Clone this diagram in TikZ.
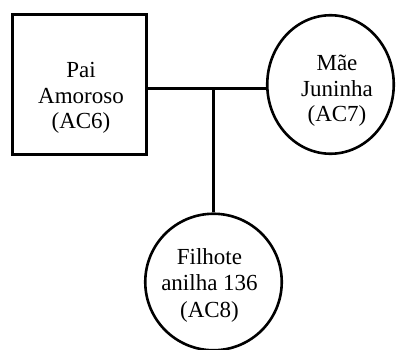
\documentclass[tikz,border=0pt]{standalone}
\usepackage{fontspec}
\setmainfont{Liberation Serif}
\usetikzlibrary{calc,shapes.geometric}
\begin{document}
\begin{tikzpicture}[x=1pt,y=1pt,
  male/.style={draw, line width=3pt, rectangle, inner sep=0pt,
    minimum width=134pt, minimum height=140pt},
  female/.style={draw, line width=2.6pt, ellipse, inner sep=0pt},
  person/.style={align=center, inner sep=0pt,
    font=\fontsize{23pt}{25.5pt}\selectfont},
  link/.style={line width=3pt}]
  \useasboundingbox (0,0) rectangle (396,349);

  % parents and offspring
  \node[male] (pai) at (79.5,264.5) {};
  \node[female, minimum width=126.5pt, minimum height=138.5pt] (mae) at (330.5,264.5) {};
  \node[female, minimum width=136.5pt, minimum height=136.5pt] (filhote) at (213.5,67) {};

  % names
  \node[person] (paiT) at (81,251) {Pai\\Amoroso\\(AC6)};
  \node[person] (maeT) at (337,258) {Mãe\\Juninha\\(AC7)};
  \node[person, font=\fontsize{23pt}{26.5pt}\selectfont] (filhoteT) at (209.5,64) {Filhote\\anilha 136\\(AC8)};

  % mating line and descent line
  \coordinate (J) at (213.5,261);
  \draw[link] (pai.east |- J) -- (mae.west |- J);
  \draw[link] (J) -- (filhote.north);
\end{tikzpicture}
\end{document}
